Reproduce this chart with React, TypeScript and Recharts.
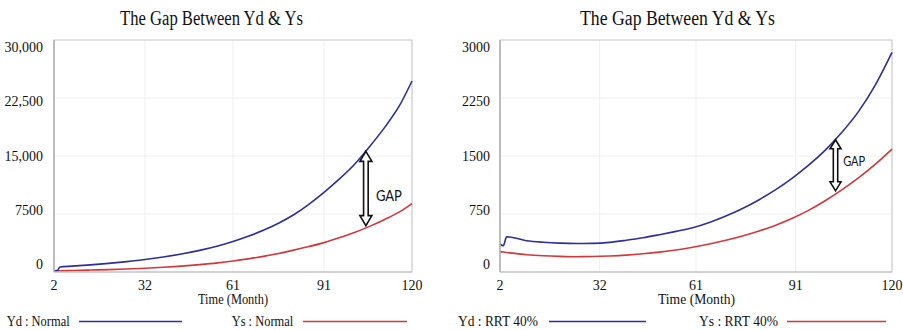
import React from 'react';
import {
  LineChart,
  Line,
  XAxis,
  YAxis,
  CartesianGrid,
  ReferenceArea,
  ReferenceLine,
  Customized,
} from 'recharts';

const SERIF = "'Liberation Serif', 'DejaVu Serif', serif";
const SANS = "Lato, 'Liberation Sans', Arial, sans-serif";

const BLUE = '#2e2e9e';
const RED = '#d4373b';

const chartTitle = 'The Gap Between Yd & Ys';
const xAxisTitle = 'Time (Month)';
const gapText = 'GAP';
const monthTicks = [2, 32, 61, 91, 120];

// Scenario 1: Normal
const normalMonths = [2, 3, 4, 8, 14, 20, 26, 32, 38, 44, 50, 56, 61, 66, 71, 76, 81, 86, 91, 96, 101, 106, 111, 116, 120];
const ydNormal = [170, 175, 650, 760, 920, 1110, 1340, 1610, 1940, 2330, 2800, 3370, 3950, 4620, 5400, 6300, 7400, 8750, 10300, 12000, 13900, 16200, 18700, 21600, 24700];
const ysNormal = [150, 155, 165, 195, 250, 310, 390, 490, 610, 760, 950, 1180, 1420, 1700, 2020, 2400, 2830, 3290, 3800, 4420, 5100, 5900, 6800, 7800, 8850];
const normalYTicks = [0, 7500, 15000, 22500, 30000];
const normalYLabels = ['0', '7500', '15,000', '22,500', '30,000'];
const normalGap = { month: 104.8, top: 15600, bottom: 6000 };

// Scenario 2: RRT 40%
const rrtMonths = [2, 3, 4, 10, 15, 20, 25, 30, 35, 40, 45, 50, 55, 60, 65, 70, 75, 80, 85, 90, 95, 100, 105, 110, 115, 120];
const ydRrt = [362, 340, 456, 405, 385, 373, 368, 370, 383, 410, 442, 482, 525, 572, 640, 725, 820, 935, 1065, 1215, 1385, 1580, 1810, 2080, 2420, 2840];
const ysRrt = [263, 258, 253, 224, 210, 202, 198, 200, 207, 218, 235, 257, 285, 320, 362, 410, 466, 530, 605, 695, 800, 925, 1065, 1220, 1395, 1590];
const rrtYTicks = [0, 750, 1500, 2250, 3000];
const rrtYLabels = ['0', '750', '1500', '2250', '3000'];
const rrtGap = { month: 103, top: 1710, bottom: 1050 };

const normalData = normalMonths.map((m, i) => ({ month: m, yd: ydNormal[i], ys: ysNormal[i] }));
const rrtData = rrtMonths.map((m, i) => ({ month: m, yd: ydRrt[i], ys: ysRrt[i] }));

const PLOT_TOP = 40;
const PLOT_BOTTOM = 272;
const PLOT_MID = (PLOT_TOP + PLOT_BOTTOM) / 2;

const serifStyle = { fontFamily: SERIF };
const sansStyle = { fontFamily: SANS };

// Value labels sit slightly inside the gridline span, as in the original tool
const makeYTick = (ticks: number[], labels: string[]) => (props: any) => {
  const { x, y, payload } = props;
  const idx = ticks.indexOf(payload.value);
  const ly = PLOT_MID + (y - PLOT_MID) * 0.9375;
  return (
    <text x={x} y={ly} dy="0.33em" textAnchor="end" style={serifStyle} fontSize={14} fill="#111">
      {idx >= 0 ? labels[idx] : payload.value}
    </text>
  );
};

const XTick = (props: any) => {
  const { x, y, payload } = props;
  return (
    <text x={x} y={y} dy="0.71em" textAnchor="middle" style={serifStyle} fontSize={14} fill="#111">
      {payload.value}
    </text>
  );
};

const makeGapArrow = (opts: { head: number; headH: number; shaft: number; dx: number; dy: number; fs: number; len: number }) =>
  (props: any) => {
    const { x1, y1, y2 } = props;
    const x = x1;
    const top = Math.min(y1, y2);
    const bot = Math.max(y1, y2);
    const { head, headH, shaft } = opts;
    const d = [
      `M${x},${top}`,
      `L${x + head},${top + headH}`,
      `L${x + shaft},${top + headH}`,
      `L${x + shaft},${bot - headH}`,
      `L${x + head},${bot - headH}`,
      `L${x},${bot}`,
      `L${x - head},${bot - headH}`,
      `L${x - shaft},${bot - headH}`,
      `L${x - shaft},${top + headH}`,
      `L${x - head},${top + headH}`,
      'Z',
    ].join(' ');
    const mid = (top + bot) / 2;
    return (
      <g>
        <path d={d} fill="#fff" stroke="#111" strokeWidth={1.6} strokeLinejoin="miter" />
        <text
          x={x + opts.dx}
          y={mid + opts.dy}
          style={sansStyle}
          fontSize={opts.fs}
          fill="#111"
          textLength={opts.len}
          lengthAdjust="spacingAndGlyphs"
        >
          {gapText}
        </text>
      </g>
    );
  };

type LegendItem = { name: string; color: string; textX: number; textLen: number; lineX1: number; lineX2: number };

const PanelText = ({
  titleX,
  titleLen,
  axisX,
  axisLen,
  legend,
}: {
  titleX: number;
  titleLen: number;
  axisX: number;
  axisLen: number;
  legend: LegendItem[];
}) => (
  <g>
    <text x={titleX} y={25} textAnchor="middle" style={serifStyle} fontSize={20} fill="#111" textLength={titleLen} lengthAdjust="spacingAndGlyphs">
      {chartTitle}
    </text>
    <text x={axisX} y={304} textAnchor="middle" style={serifStyle} fontSize={14} fill="#111" textLength={axisLen} lengthAdjust="spacingAndGlyphs">
      {xAxisTitle}
    </text>
    {legend.map((it) => (
      <g key={it.name}>
        <text x={it.textX} y={326} style={serifStyle} fontSize={15} fill="#111" textLength={it.textLen} lengthAdjust="spacingAndGlyphs">
          {it.name}
        </text>
        <line x1={it.lineX1} x2={it.lineX2} y1={321.5} y2={321.5} stroke={it.color} strokeWidth={1.6} />
      </g>
    ))}
  </g>
);

const Panel = ({
  data,
  yMax,
  yTicks,
  yLabels,
  gap,
  arrow,
  width,
  yAxisWidth,
  rightMargin,
  tickMargin,
  text,
}: any) => (
  <LineChart
    width={width}
    height={330}
    data={data}
    margin={{ top: PLOT_TOP, right: rightMargin, bottom: 28, left: 0 }}
  >
    <CartesianGrid stroke="#efefef" strokeWidth={1} />
    <XAxis
      dataKey="month"
      type="number"
      domain={[2, 120]}
      ticks={monthTicks}
      tickLine={false}
      axisLine={{ stroke: '#c2c2c2', strokeWidth: 1.2 }}
      tick={<XTick />}
      height={30}
      interval={0}
    />
    <YAxis
      type="number"
      domain={[0, yMax]}
      ticks={yTicks}
      width={yAxisWidth}
      tickLine={false}
      tickMargin={tickMargin}
      axisLine={{ stroke: '#b4b4b4', strokeWidth: 1.6 }}
      tick={makeYTick(yTicks, yLabels)}
      interval={0}
    />
    <ReferenceArea x1={2} x2={120} y1={0} y2={yMax} fill="none" stroke="#cdcdcd" strokeWidth={1.2} ifOverflow="extendDomain" />
    <Line type="monotone" dataKey="ys" stroke={RED} strokeWidth={1.6} dot={false} isAnimationActive={false} />
    <Line type="monotone" dataKey="yd" stroke={BLUE} strokeWidth={1.6} dot={false} isAnimationActive={false} />
    <ReferenceLine
      segment={[
        { x: gap.month, y: gap.top },
        { x: gap.month, y: gap.bottom },
      ]}
      shape={makeGapArrow(arrow)}
    />
    <Customized component={<PanelText {...text} />} />
  </LineChart>
);

export default function App() {
  return (
    <div style={{ position: 'absolute', left: 0, top: 0, width: 903, height: 330, background: '#fff', overflow: 'hidden' }}>
      <div style={{ position: 'absolute', left: 0, top: 0 }}>
        <Panel
          data={normalData}
          yMax={30000}
          yTicks={normalYTicks}
          yLabels={normalYLabels}
          gap={normalGap}
          arrow={{ head: 6, headH: 10, shaft: 2.3, dx: 10, dy: 13, fs: 16, len: 26 }}
          width={450}
          yAxisWidth={54}
          rightMargin={38}
          tickMargin={5}
          text={{
            titleX: 211.5,
            titleLen: 183,
            axisX: 233,
            axisLen: 70,
            legend: [
              { name: 'Yd : Normal', color: BLUE, textX: 6.7, textLen: 63, lineX1: 79, lineX2: 182 },
              { name: 'Ys : Normal', color: RED, textX: 231.7, textLen: 61.5, lineX1: 303, lineX2: 407 },
            ],
          }}
        />
      </div>
      <div style={{ position: 'absolute', left: 450, top: 0 }}>
        <Panel
          data={rrtData}
          yMax={3000}
          yTicks={rrtYTicks}
          yLabels={rrtYLabels}
          gap={rrtGap}
          arrow={{ head: 5.5, headH: 9, shaft: 2.2, dx: 7.6, dy: 1, fs: 13, len: 22 }}
          width={453}
          yAxisWidth={50}
          rightMargin={11}
          tickMargin={4}
          text={{
            titleX: 227.5,
            titleLen: 195,
            axisX: 246.5,
            axisLen: 77,
            legend: [
              { name: 'Yd : RRT 40%', color: BLUE, textX: 8, textLen: 80, lineX1: 99, lineX2: 196 },
              { name: 'Ys : RRT 40%', color: RED, textX: 249, textLen: 79, lineX1: 337, lineX2: 436 },
            ],
          }}
        />
      </div>
    </div>
  );
}
